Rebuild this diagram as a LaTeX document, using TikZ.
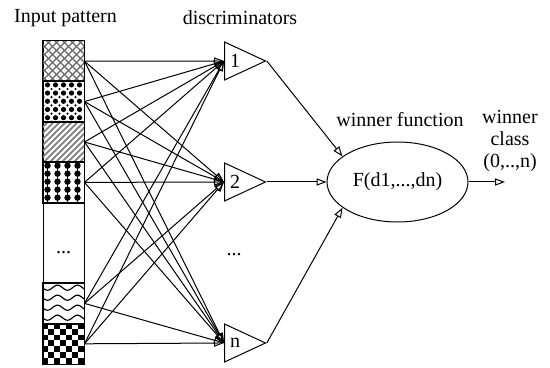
\documentclass[tikz,border=0pt]{standalone}
\usepackage{fontspec}
\setmainfont{Liberation Serif}
\usetikzlibrary{arrows.meta,shapes.geometric,positioning}

\begin{document}
\begin{tikzpicture}[x=0.5pt, y=-0.5pt,
  >={Triangle[open,length=5pt,width=3.6pt]},
  every node/.style={font=\fontsize{10}{12}\selectfont},
  cell/.style={draw, line width=0.5pt, minimum width=20.5pt, minimum height=20.2pt, inner sep=0pt},
  disc/.style={draw, line width=0.5pt, isosceles triangle, isosceles triangle stretches,
    minimum width=19pt, minimum height=20.5pt, inner sep=0pt, anchor=lower side},
  wire/.style={->, line width=0.5pt}
]
  % picture frame, 550 x 368 px
  \useasboundingbox (0,0) rectangle (550,368);

  % Titles
  \node (inplab) at (65.5,18) {Input pattern};
  \node (disclab) at (240,18) {discriminators};

  % Input pattern column
  \node[cell] (pat1) at (63.5,61.2) {};
  \node[cell] (pat2) at (63.5,101.6) {};
  \node[cell] (pat3) at (63.5,142) {};
  \node[cell] (pat4) at (63.5,182.4) {};
  \node[cell, minimum height=40.4pt] (pat5) at (63.5,242.8) {};
  \node (patdots) at (63.5,253) {...};
  \node[cell] (pat6) at (63.5,303.4) {};
  \node[cell] (pat7) at (63.5,343.8) {};

  % fills of the cells, in px from each cell's top left corner
  \begin{scope}
    \clip (pat1.north west) rectangle (pat1.south east);
    \begin{scope}[shift={(pat1.north west)}]
      \foreach \k in {-44,-36,...,44} {
        \draw[black!60, line width=0.6pt] (\k,44) -- (\k+44,0);
        \draw[black!60, line width=0.6pt] (\k,0) -- (\k+44,44);
      }
    \end{scope}
  \end{scope}
  \begin{scope}
    \clip (pat2.north west) rectangle (pat2.south east);
    \begin{scope}[shift={(pat2.north west)}]
      \foreach \i in {0,...,4} \foreach \j in {0,...,4} {
        \fill (5+8*\i, 4+8.2*\j) circle (1.3pt);
        \fill (1+8*\i, 8.1+8.2*\j) circle (0.6pt);
      }
    \end{scope}
  \end{scope}
  \begin{scope}
    \clip (pat3.north west) rectangle (pat3.south east);
    \begin{scope}[shift={(pat3.north west)}]
      \foreach \k in {-44,-38,...,44}
        \draw[black!50, line width=0.9pt] (\k,44) -- (\k+44,0);
    \end{scope}
  \end{scope}
  \begin{scope}
    \clip (pat4.north west) rectangle (pat4.south east);
    \begin{scope}[shift={(pat4.north west)}]
      \foreach \i in {5,15,25,35} {
        \draw[line width=0.6pt] (\i,0) -- (\i,41);
        \foreach \j in {4,12,20,28,36} \fill (\i,\j) circle (1.6pt);
      }
    \end{scope}
  \end{scope}
  \begin{scope}
    \clip (pat6.north west) rectangle (pat6.south east);
    \begin{scope}[shift={(pat6.north west)}]
      \foreach \j in {5,15,25,35}
        \draw[line width=0.6pt] plot[domain=0:42, samples=43, smooth] (\x, {\j+2.5*sin(\x*18)});
    \end{scope}
  \end{scope}
  \begin{scope}
    \clip (pat7.north west) rectangle (pat7.south east);
    \begin{scope}[shift={(pat7.north west)}]
      \foreach \i in {0,...,6} \foreach \j in {0,...,6} {
        \pgfmathtruncatemacro\s{mod(\i+\j,2)}
        \ifnum\s=0 \fill (\i*5.86,\j*5.78) rectangle ++(5.86,5.78); \fi
      }
    \end{scope}
  \end{scope}
  % redraw the cell borders over the fills
  \foreach \p in {pat1,pat2,pat3,pat4,pat6,pat7}
    \draw[line width=0.5pt] (\p.north west) rectangle (\p.south east);

  % Discriminators
  \node[disc] (d1) at (224,61) {};
  \node[disc] (d2) at (224,182) {};
  \node[disc] (dn) at (224,343) {};
  \node[right=-0.5pt of d1.lower side] (d1lab) {1};
  \node[right=-0.5pt of d2.lower side] (d2lab) {2};
  \node[right=-0.5pt of dn.lower side] (dnlab) {n};
  \node (discdots) at (234,255) {...};

  % every input cell feeds every discriminator
  \foreach \p in {pat1,pat2,pat3,pat4,pat6,pat7}
    \foreach \d in {d1,d2,dn}
      \draw[wire] (\p.east) -- (\d.lower side);

  % Winner function
  \node[draw, ellipse, line width=0.5pt, minimum width=70.5pt, minimum height=40pt, inner sep=0pt]
    (F) at (397.5,182) {F(d1,...,dn)};
  \node (wflab) at (400,120) {winner function};
  \draw[wire] (d1.apex) -- (F.155);
  \draw[wire] (d2.apex) -- (F.west);
  \draw[wire] (dn.apex) -- (F.205);

  % Winner class
  \coordinate (out) at (505,182);
  \draw[wire] (F.east) -- (out);
  \node[align=center, font=\fontsize{10}{10.8}\selectfont] (wclab) at (510,141) {winner\\class\\(0,..,n)};
\end{tikzpicture}
\end{document}
